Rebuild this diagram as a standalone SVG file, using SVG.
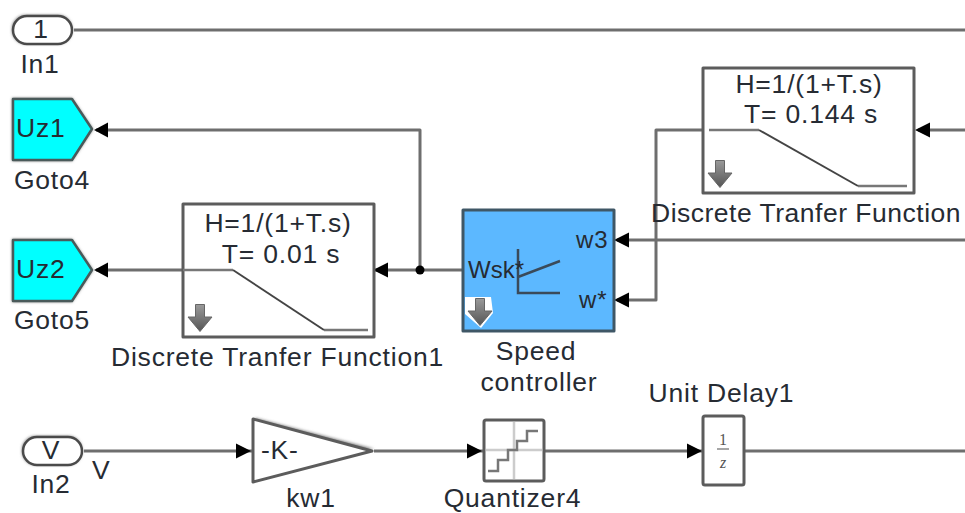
<svg xmlns="http://www.w3.org/2000/svg" width="965" height="513" viewBox="0 0 965 513">
<style>
text{font-family:"Liberation Sans",Arial,sans-serif;font-size:26.5px;letter-spacing:.8px;fill:#262b33}
.m{text-anchor:middle}
.s{font-size:24px;letter-spacing:.8px}
.box{fill:#fff;stroke:#5c5c5c;stroke-width:3;stroke-linejoin:round}
.goto{fill:#00ffff;stroke:#4a5a5a;stroke-width:2.5;stroke-linejoin:round}
.port{fill:#fff;stroke:#4a4a4a;stroke-width:2.5}
.w{fill:none;stroke:#6e6e6e;stroke-width:3;stroke-linejoin:round}
.ic{fill:none;stroke:#777;stroke-width:2.5}
.ramp{fill:none;stroke:#444;stroke-width:2}
.lnb{fill:none;stroke:#3a4a5a;stroke-width:2.5}
.ah{fill:#000}
.dn{fill:url(#dg)}
.sh{filter:url(#soft)}
.frac{font-family:"Liberation Serif",serif;font-size:16px;letter-spacing:0;fill:#555}
</style>
<defs>
<linearGradient id="dg" x1="0" y1="0" x2="0" y2="1"><stop offset="0" stop-color="#9a9a9a"/><stop offset="1" stop-color="#555"/></linearGradient>
<filter id="soft" x="-20%" y="-20%" width="140%" height="140%"><feGaussianBlur stdDeviation="1.600"/></filter>
<symbol id="down" overflow="visible"><path class="dn" d="M-4.500 -13.500H4.500V-1H12L0 13.500L-12 -1H-4.500Z" stroke="#666" stroke-width="1"/></symbol>
</defs>
<rect width="965" height="513" fill="#fff"/>
<g id="connectors">
<path class="w" d="M74 30H965"/>
<path class="w" d="M420 270V130H96"/>
<path class="w" d="M462 270H375"/>
<path class="w" d="M182 270H96"/>
<path class="w" d="M965 130H918"/>
<path class="w" d="M703 130H656V300H617"/>
<path class="w" d="M965 240H617"/>
<path class="w" d="M84 451H252"/>
<path class="w" d="M374 451H483"/>
<path class="w" d="M545 451H703"/>
<path class="w" d="M745 451H965"/>
<circle cx="420" cy="270" r="4.500" class="ah"/>
<path class="ah" d="M94 130L108 122.500V137.500Z"/>
<path class="ah" d="M94 270L108 262.500V277.500Z"/>
<path class="ah" d="M373 270L388 262.500V277.500Z"/>
<path class="ah" d="M915 130L930 122.500V137.500Z"/>
<path class="ah" d="M614 240L629 232.500V247.500Z"/>
<path class="ah" d="M614 300L629 292.500V307.500Z"/>
<path class="ah" d="M251 451L236 443.500V458.500Z"/>
<path class="ah" d="M482 451L467 443.500V458.500Z"/>
<path class="ah" d="M702 451L687 443.500V458.500Z"/>
</g>
<g id="in1">
<rect class="sh" x="12" y="15" width="60" height="29" rx="14" fill="#777"/>
<rect class="port" x="13" y="16" width="59" height="28" rx="14"/>
<text class="m" x="41" y="38">1</text>
<text class="m" x="40" y="73">In1</text>
</g>
<g id="goto4">
<path class="sh" d="M12 98H72L93 129L72 161H12Z" fill="#777"/>
<path class="goto" d="M13 99H72L92 129L72 160H13Z"/>
<text x="16" y="137">Uz1</text>
<text class="m" x="52" y="189">Goto4</text>
</g>
<g id="goto5">
<path class="sh" d="M12 239H72L93 270L72 302H12Z" fill="#777"/>
<path class="goto" d="M13 240H72L92 270L72 301H13Z"/>
<text x="16" y="278">Uz2</text>
<text class="m" x="52" y="329">Goto5</text>
</g>
<g id="dtf1">
<rect class="box" x="183" y="204" width="191" height="133"/>
<text class="m" x="278" y="232">H=1/(1+T.s)</text>
<text class="m" x="281" y="263">T= 0.01 s</text>
<path class="ic" d="M183 270H233M324 330H368"/>
<path class="ramp" d="M233 270L324 330"/>
<use href="#down" x="200" y="318"/>
<text class="m" x="277.500" y="366">Discrete Tranfer Function1</text>
</g>
<g id="speed-controller">
<rect x="463" y="210" width="151" height="121" fill="#5cb8ff" stroke="#3f5766" stroke-width="3" stroke-linejoin="round"/>
<path class="lnb" d="M518 249V293H560M518 277L560 261"/>
<text x="468" y="278" class="s" style="letter-spacing:0">Wsk*</text>
<text x="576" y="248" class="s">w3</text>
<text x="579" y="308" class="s">w*</text>
<path d="M465 297H491L493 313L481 328L465 314Z" fill="#fff"/>
<use href="#down" x="480" y="312"/>
<text class="m" x="536" y="360">Speed</text>
<text class="m" x="539" y="391">controller</text>
</g>
<g id="dtf2">
<rect class="box" x="703" y="68" width="211" height="125"/>
<text class="m" x="809" y="93">H=1/(1+T.s)</text>
<text class="m" x="811" y="123">T= 0.144 s</text>
<path class="ic" d="M709 130H759M858 186H907"/>
<path class="ramp" d="M759 130L858 186"/>
<use href="#down" x="720" y="174"/>
<text x="651" y="222" style="letter-spacing:.5px">Discrete Tranfer Function</text>
</g>
<g id="in2">
<rect class="sh" x="22" y="436" width="60" height="29" rx="14" fill="#777"/>
<rect class="port" x="23" y="437" width="59" height="28" rx="14"/>
<text class="m" x="51" y="459">V</text>
<text class="m" x="51" y="493">In2</text>
<text x="92" y="479">V</text>
</g>
<g id="kw1">
<path class="sh" d="M255 418L374 449L255 470Z" fill="#777"/>
<path class="box" d="M253 419L372 451L253 482Z" stroke-width="2.500"/>
<text x="261" y="459">-K-</text>
<text class="m" x="311" y="507">kw1</text>
</g>
<g id="quantizer4">
<rect class="box" x="484" y="420" width="60" height="61" rx="2"/>
<path fill="none" stroke="#ccc" stroke-width="2.500" d="M514 422V479M486 450H542"/>
<path class="ic" d="M488 471H498V460H508V450H517V441H527V431H538"/>
<text class="m" x="512.500" y="507">Quantizer4</text>
</g>
<g id="unit-delay1">
<rect class="box" x="703" y="416" width="41" height="69" rx="2"/>
<text class="m frac" x="723" y="445">1</text>
<path d="M717 449H729" stroke="#888" stroke-width="1.500"/>
<text class="m frac" x="723" y="468" font-style="italic">z</text>
<text class="m" x="721.500" y="402">Unit Delay1</text>
</g>
</svg>
